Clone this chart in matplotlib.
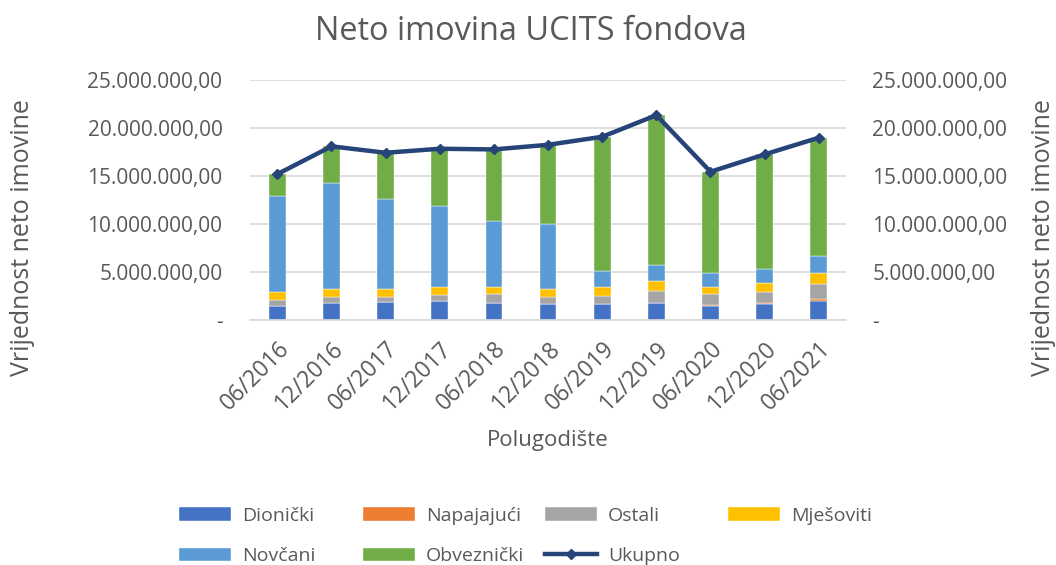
import numpy as np
import matplotlib.pyplot as plt
from matplotlib.ticker import FuncFormatter

plt.rcParams['font.family'] = ['Open Sans', 'DejaVu Sans']

periodi = ['06/2016', '12/2016', '06/2017', '12/2017', '06/2018', '12/2018',
           '06/2019', '12/2019', '06/2020', '12/2020', '06/2021']

# vrijednosti u milijunima
dionicki = [1.46, 1.74, 1.84, 1.94, 1.74, 1.63, 1.63, 1.74, 1.46, 1.63, 2.01]
napajajuci = [0.0, 0.0, 0.0, 0.0, 0.0, 0.0, 0.02, 0.02, 0.05, 0.17, 0.21]
ostali = [0.62, 0.62, 0.59, 0.63, 0.90, 0.77, 0.85, 1.29, 1.16, 1.12, 1.50]
mjesoviti = [0.77, 0.90, 0.83, 0.90, 0.83, 0.86, 0.87, 1.01, 0.80, 0.97, 1.14]
novcani = [10.10, 10.98, 9.31, 8.44, 6.81, 6.77, 1.73, 1.67, 1.39, 1.39, 1.84]
obveznicki = [2.25, 3.86, 4.86, 5.94, 7.50, 8.23, 14.00, 15.62, 10.59, 11.98, 12.30]
ukupno = [15.20, 18.10, 17.43, 17.85, 17.78, 18.26, 19.10, 21.35, 15.45, 17.26, 19.00]

serije = [
    ('Dionički', dionicki, '#4472C4'),
    ('Napajajući', napajajuci, '#ED7D31'),
    ('Ostali', ostali, '#A5A5A5'),
    ('Mješoviti', mjesoviti, '#FFC000'),
    ('Novčani', novcani, '#5B9BD5'),
    ('Obveznički', obveznicki, '#70AD47'),
]

siva = '#595959'

def fmt(v, pos):
    if v == 0:
        return '-'
    s = '{:,.2f}'.format(v)
    return s.replace(',', 'X').replace('.', ',').replace('X', '.')

fig = plt.figure(figsize=(10.56, 5.65), dpi=100)
ax = fig.add_axes([0.237, 0.434, 0.564, 0.424])
ax2 = ax.twinx()

x = np.arange(len(periodi))
bottom = np.zeros(len(periodi))
handles = {}
for naziv, vals, boja in serije:
    v = np.array(vals) * 1e6
    b = ax.bar(x, v, 0.31, bottom=bottom, color=boja, label=naziv, zorder=2,
               edgecolor='white', linewidth=0.3)
    handles[naziv] = b
    bottom += v

ln, = ax2.plot(x, np.array(ukupno) * 1e6, color='#264478', linewidth=3.2,
               marker='D', markersize=5, label='Ukupno', zorder=3)
handles['Ukupno'] = ln

for a in (ax, ax2):
    a.set_ylim(0, 25e6)
    a.set_yticks(np.arange(0, 25e6 + 1, 5e6))
    a.yaxis.set_major_formatter(FuncFormatter(fmt))
    a.tick_params(axis='y', length=0, labelsize=15, colors=siva)
    for s in a.spines.values():
        s.set_visible(False)
ax.tick_params(axis='y', pad=20)
ax2.tick_params(axis='y', pad=19)
ax.set_xlim(-0.5, len(periodi) - 0.5)
ax.grid(axis='y', color='#d9d9d9', linewidth=1.2, zorder=0)
ax.set_axisbelow(True)
ax.spines['bottom'].set_visible(True)
ax.spines['bottom'].set_color('#d9d9d9')
ax.spines['bottom'].set_linewidth(1.2)

ax.set_xticks(x)
ax.set_xticklabels(periodi, rotation=45, ha='right', rotation_mode='anchor')
ax.tick_params(axis='x', length=0, labelsize=16.5, colors=siva, pad=12)

fig.text(0.021, 0.58, 'Vrijednost neto imovine', rotation=90, ha='center',
         va='center', fontsize=18, color=siva)
fig.text(0.988, 0.58, 'Vrijednost neto imovine', rotation=90, ha='center',
         va='center', fontsize=18, color=siva)
fig.text(0.519, 0.221, 'Polugodište', ha='center', va='center',
         fontsize=16, color=siva)
fig.text(0.503, 0.945, 'Neto imovina UCITS fondova', ha='center', va='center',
         fontsize=23.4, color=siva)

# legenda u cetiri jednako razmaknuta stupca
stupci = [['Dionički', 'Novčani'], ['Napajajući', 'Obveznički'],
          ['Ostali', 'Ukupno'], ['Mješoviti']]
stupac_x = [179, 363, 545, 728]
for imena, px in zip(stupci, stupac_x):
    leg = fig.legend([handles[k] for k in imena], imena, loc='upper left',
                     bbox_to_anchor=(px / 1056, 1 - 507 / 565), frameon=False,
                     fontsize=14, handlelength=2.68, handleheight=0.72,
                     handletextpad=0.57, labelspacing=1.15,
                     borderpad=0, borderaxespad=0)
    for t in leg.get_texts():
        t.set_color(siva)

fig.savefig('out.png', dpi=100)
